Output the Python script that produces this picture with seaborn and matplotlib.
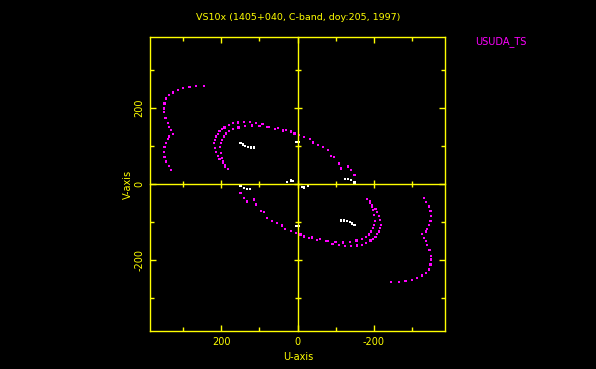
import numpy as np
import pandas as pd
import matplotlib.pyplot as plt
import seaborn as sns

title = "VS10x (1405+040, C-band, doy:205, 1997)"
station = "USUDA_TS"
ticks_major = [-200, 0, 200]
ticks_minor = [-300, -100, 100, 300]

# half tracks; the conjugate (-u,-v) half is drawn as well
# long S-shaped track on the far left
s_u = [245, 267, 284, 302, 315, 328, 337, 346, 350, 352, 352, 347, 341, 337, 332, 328,
       337, 341, 346, 350, 352, 350, 346, 339, 332]
s_v = [258, 259, 256, 253, 247, 241, 234, 225, 212, 199, 190, 173, 160, 151, 142, 131,
       125, 118, 107, 98, 85, 72, 59, 47, 37]

# outer ellipse arc
e1_u = [182, 190, 197, 205, 210, 215, 218, 220, 218, 214, 210, 205, 199, 192, 181, 170,
        156, 141, 125, 109, 92, 74, 52, 30, 8, -18, -40, -67, -89, -110, -132, -150]
e1_v = [39, 50, 59, 66, 74, 85, 94, 107, 116, 125, 132, 139, 144, 149, 155, 160,
        162, 163, 163, 161, 157, 151, 147, 142, 133, 123, 109, 97, 74, 54, 46, 24]

# inner ellipse arc
e2_u = [183, 190, 195, 198, 201, 203, 201, 199, 194, 188, 180, 170, 155, 139, 120, 100,
        80, 60, 38, 17, -5, -32, -53, -80, -97, -115, -141]
e2_v = [39, 46, 55, 68, 81, 98, 108, 116, 125, 133, 139, 144, 149, 153, 154, 153,
        150, 145, 141, 138, 129, 118, 103, 89, 72, 41, 37]

# short white segments
w_u = [150, 144, 138, 131, 122, 115, 150, 141, 132, 126, 27, 18, 12, 5, 0, -4]
w_v = [107, 104, 101, 97, 96, 96, -4, -10, -13, -13, 6, 9, 8, 111, 111, 111]

rows = []
for us, vs, kind in [(s_u, s_v, "mag"), (e1_u, e1_v, "mag"), (e2_u, e2_v, "mag"), (w_u, w_v, "white")]:
    for u, v in zip(us, vs):
        rows.append((u, v, kind))
        rows.append((-u, -v, kind))
df = pd.DataFrame(rows, columns=["u", "v", "kind"])

sns.set_theme(style="ticks")
plt.rcParams["font.family"] = ["DejaVu Sans"]
yellow = "#ffff00"
magenta = "#ff00ff"

fig = plt.figure(figsize=(5.96, 3.69), dpi=100, facecolor="black")
ax = fig.add_axes([150 / 596, 1 - 331 / 369, 295 / 596, 294 / 369])
ax.set_facecolor("black")

sns.scatterplot(data=df, x="u", y="v", hue="kind", palette={"mag": magenta, "white": "white"},
                marker="s", s=2.5, linewidth=0, legend=False, ax=ax)

ax.set_xlim(388, -388)
ax.set_ylim(-387, 387)
ax.set_xticks(ticks_major)
ax.set_xticks(ticks_minor, minor=True)
ax.set_yticks(ticks_major)
ax.set_yticks(ticks_minor, minor=True)
ax.set_xticklabels([str(t) for t in ticks_major])
ax.set_yticklabels([str(t) for t in ticks_major], rotation=90, va="center")
ax.set_xlabel("")
ax.set_ylabel("")
for sp in ax.spines.values():
    sp.set_color(yellow)
    sp.set_linewidth(1)
ax.tick_params(which="both", direction="in", top=True, right=True, color=yellow,
               labelcolor=yellow, labelsize=7, width=1)
ax.tick_params(which="major", length=4.5, pad=4)
ax.tick_params(which="minor", length=3)

# zero lines with crossing ticks
ax2 = fig.add_axes(ax.get_position(), sharex=ax, sharey=ax)
ax2.patch.set_visible(False)
ax2.spines["top"].set_visible(False)
ax2.spines["right"].set_visible(False)
ax2.spines["left"].set_position(("data", 0))
ax2.spines["bottom"].set_position(("data", 0))
ax2.spines["left"].set_color(yellow)
ax2.spines["bottom"].set_color(yellow)
ax2.spines["left"].set_linewidth(1)
ax2.spines["bottom"].set_linewidth(1)
ax2.tick_params(which="both", direction="inout", color=yellow, width=1,
                labelbottom=False, labelleft=False, top=False, right=False)
ax2.tick_params(which="major", length=6)
ax2.tick_params(which="minor", length=4)

fig.text(298 / 596, 1 - 17 / 369, title, color=yellow, ha="center", va="center", fontsize=6.8)
fig.text(475 / 596, 1 - 42 / 369, station, color=magenta, ha="left", va="center", fontsize=7)
fig.text(298 / 596, 1 - 357 / 369, "U-axis", color=yellow, ha="center", va="center", fontsize=7)
fig.text(128 / 596, 1 - 184 / 369, "V-axis", color=yellow, ha="center", va="center",
         fontsize=7, rotation=90)

fig.savefig("out.png", dpi=100, facecolor="black")
